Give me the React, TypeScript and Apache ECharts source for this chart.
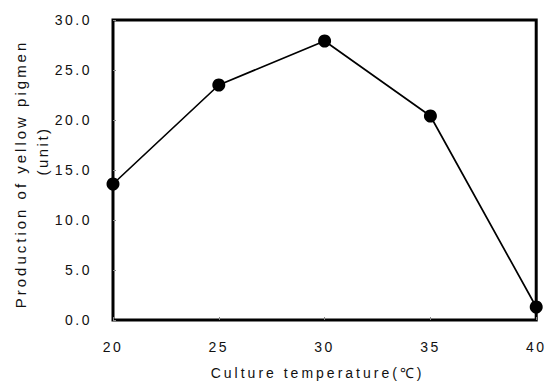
import React, { useEffect, useRef } from "react";
import * as echarts from "echarts";

const temperatures = [20, 25, 30, 35, 40];
const production = [13.6, 23.5, 27.9, 20.4, 1.3];
const xTicks = [20, 25, 30, 35, 40];
const yAxisLine1 = "Production of yellow pigmen";
const yAxisLine2 = "(unit)";
const xAxisTitle = "Culture temperature(\u2103)";

export default function App() {
  const ref = useRef<HTMLDivElement>(null);
  useEffect(() => {
    if (!ref.current) return;
    const el = ref.current;
    const chart = echarts.init(el, null, { renderer: "svg" });
    const font = "Liberation Sans";
    const applySpacing = () => {
      el.querySelectorAll("text").forEach((t) => {
        const s = t.textContent || "";
        const isTitle = s.length > 8;
        (t as SVGTextElement).style.letterSpacing = isTitle ? "3px" : "2.5px";
      });
    };
    chart.on("rendered", applySpacing);
    chart.setOption({
      animation: false,
      backgroundColor: "#fff",
      grid: {
        left: 113,
        right: 10,
        top: 20,
        bottom: 60,
        show: true,
        borderColor: "#000",
        borderWidth: 3,
        backgroundColor: "transparent",
      },
      xAxis: {
        type: "value",
        min: 20,
        max: 40,
        interval: 5,
        axisLine: { show: false },
        axisTick: { show: true, inside: true, length: 3, lineStyle: { color: "#888" } },
        splitLine: { show: false },
        axisLabel: {
          color: "#111",
          fontFamily: font,
          fontSize: 14,
          margin: 20,
          formatter: (v: number) => (xTicks.includes(v) ? String(v) : ""),
        },
        name: xAxisTitle,
        nameLocation: "middle",
        nameGap: 46,
        nameTextStyle: { color: "#111", fontFamily: font, fontSize: 14, padding: [0, 14, 0, 0] },
      },
      yAxis: {
        type: "value",
        min: 0,
        max: 30,
        interval: 5,
        axisLine: { show: false },
        axisTick: { show: true, inside: true, length: 3, lineStyle: { color: "#888" } },
        splitLine: { show: false },
        axisLabel: {
          color: "#111",
          fontFamily: font,
          fontSize: 14,
          margin: 21,
          formatter: (v: number) => v.toFixed(1),
        },
      },
      graphic: [
        {
          type: "text",
          x: 20,
          y: 174,
          rotation: Math.PI / 2,
          style: {
            text: yAxisLine1,
            fill: "#111",
            font: `15px "${font}"`,
            align: "center",
            verticalAlign: "middle",
          },
        },
        {
          type: "text",
          x: 42,
          y: 151,
          rotation: Math.PI / 2,
          style: {
            text: yAxisLine2,
            fill: "#111",
            font: `15px "${font}"`,
            align: "center",
            verticalAlign: "middle",
          },
        },
      ],
      series: [
        {
          type: "line",
          data: temperatures.map((t, i) => [t, production[i]]),
          symbol: "circle",
          symbolSize: 13,
          itemStyle: { color: "#000" },
          lineStyle: { color: "#000", width: 1.7 },
          clip: false,
        },
      ],
    });
    applySpacing();
    return () => chart.dispose();
  }, []);
  return <div ref={ref} style={{ width: 547, height: 385, position: "absolute", left: 0, top: 0 }} />;
}
